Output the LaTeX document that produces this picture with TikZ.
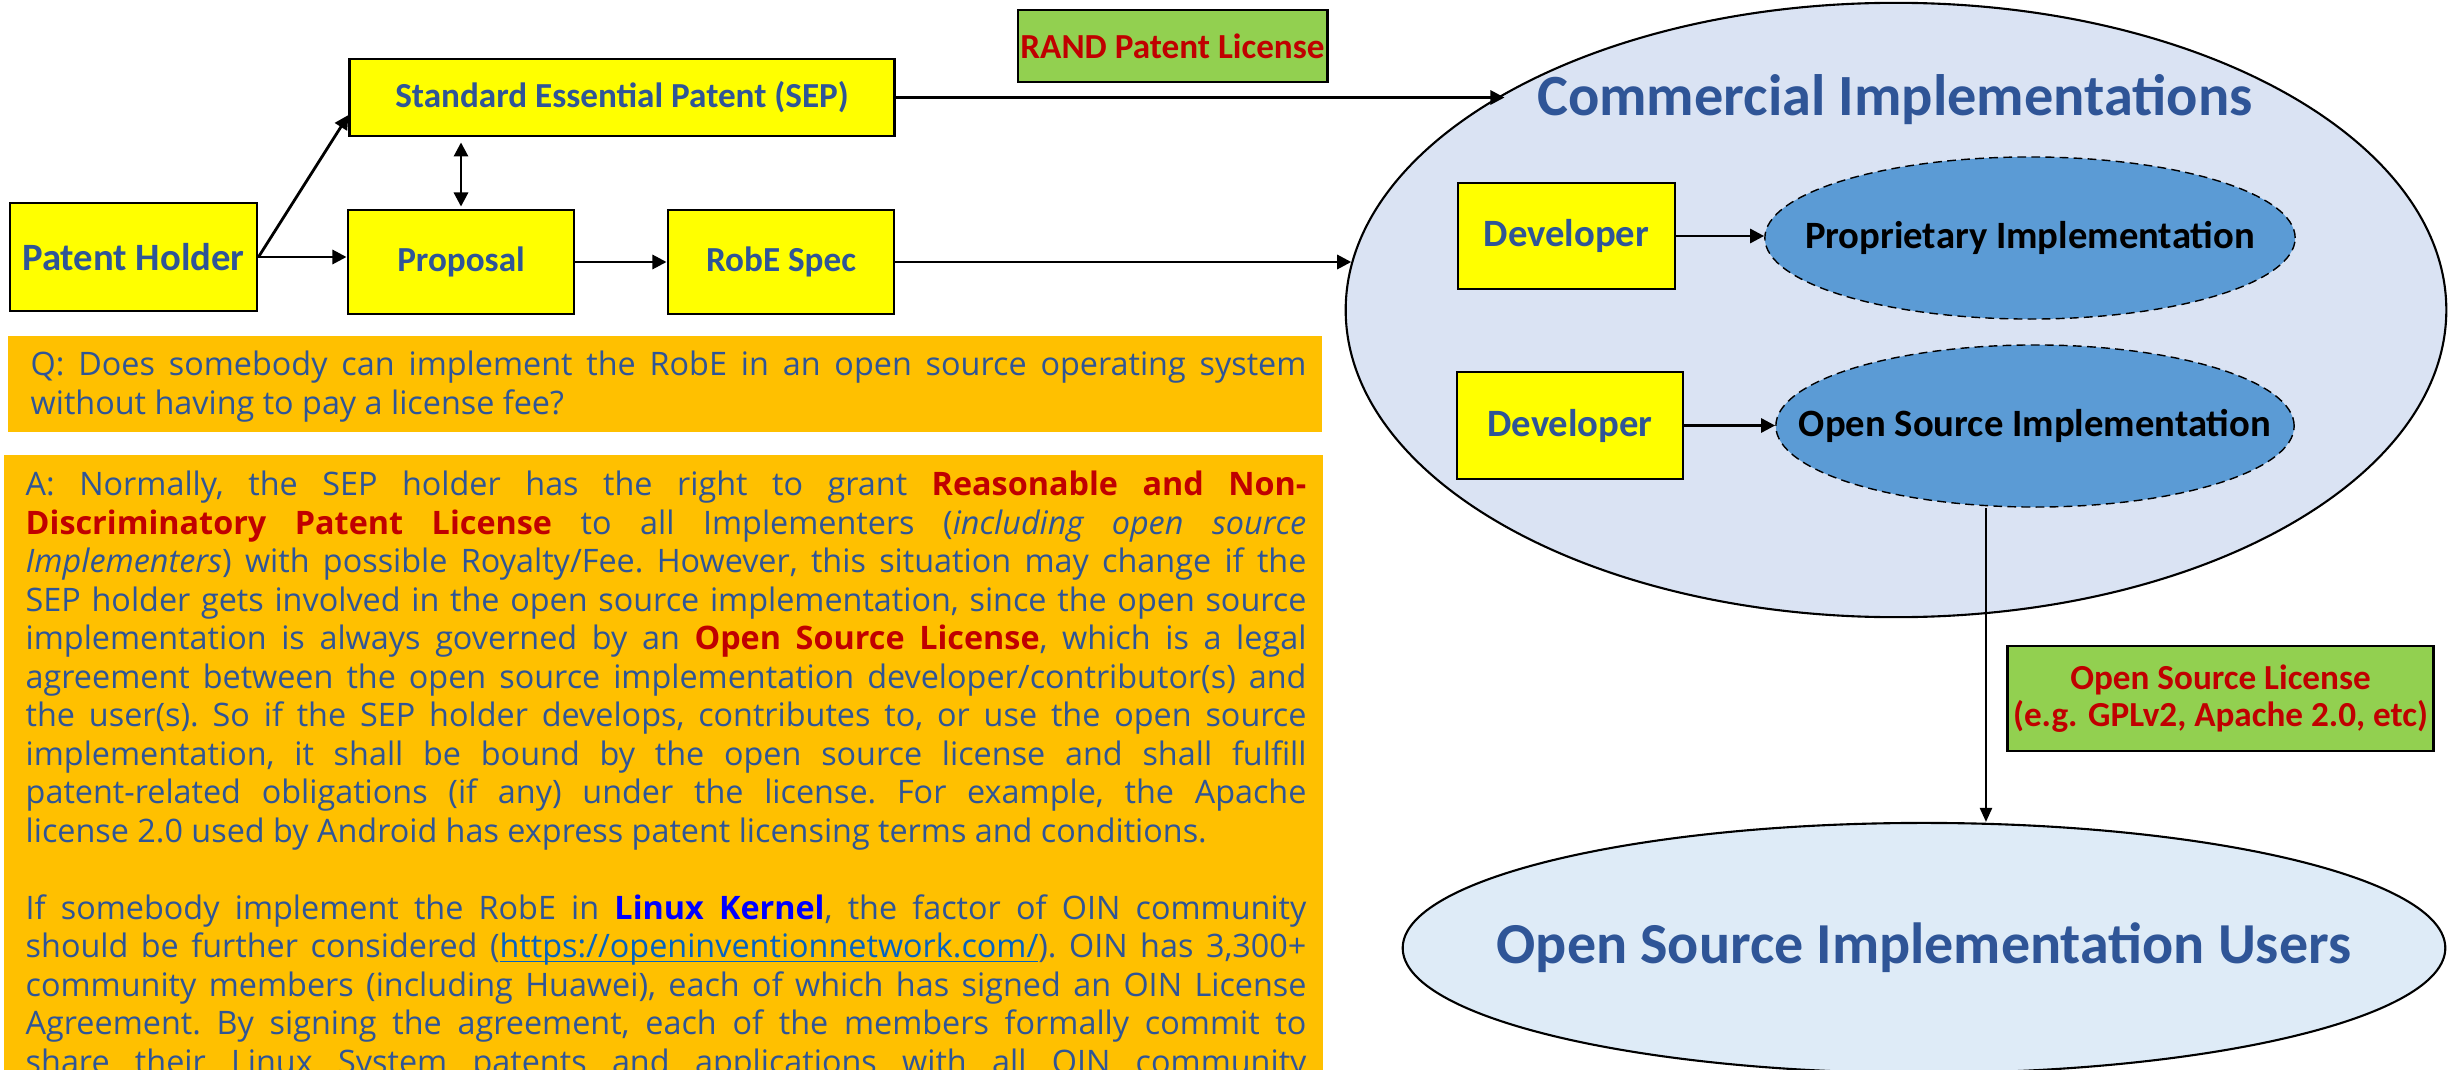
\documentclass[tikz,border=0pt]{standalone}
\usepackage{fontspec}
\setmainfont{Open Sans}
\newfontfamily\labelfont{Carlito}
\usetikzlibrary{arrows.meta,shapes.geometric}

\definecolor{txtblue}{HTML}{2F5597}
\definecolor{licred}{HTML}{C00000}
\definecolor{boxyellow}{HTML}{FFFF00}
\definecolor{licgreen}{HTML}{92D050}
\definecolor{qaorange}{HTML}{FFC000}
\definecolor{implblue}{HTML}{5B9BD5}
\definecolor{commfill}{HTML}{DAE3F3}
\definecolor{userfill}{HTML}{DEEBF7}
\definecolor{linkblue}{HTML}{0563C1}

\hyphenpenalty=10000
\newcommand\qafont{\fontsize{9.2}{10.95}\selectfont}
\newcommand\qasetup{\tolerance=9999\emergencystretch=0pt\hyphenpenalty=10000\frenchspacing\parindent=0pt}
\newcommand\redbf[1]{\textcolor{licred}{\textbf{#1}}}
\newcommand\linkline[1]{\setbox0\hbox{#1}\rlap{\rule[-1.3pt]{\wd0}{0.45pt}}\box0}

\tikzset{
  flowbox/.style={draw, line width=0.8pt, fill=boxyellow, text=txtblue, inner sep=0pt, align=center,
    font=\labelfont\bfseries\fontsize{10}{12}\selectfont},
  implnode/.style={ellipse, draw, dash pattern=on 2.5pt off 1.5pt, line width=0.4pt, fill=implblue, inner sep=0pt,
    font=\labelfont\bfseries\fontsize{11}{13}\selectfont},
  licbox/.style={draw, line width=0.8pt, fill=licgreen, text=licred, inner sep=0pt, align=center,
    font=\labelfont\bfseries\fontsize{10}{10.5}\selectfont},
  qabox/.style={fill=qaorange, inner sep=0pt, anchor=north west},
  qatext/.style={anchor=north west, inner sep=0pt, text=txtblue, align=justify, font=\qafont},
  flow/.style={line width=0.8pt, -{Triangle[length=4pt,width=4pt]}},
}

\begin{document}
\begin{tikzpicture}[x=0.01cm, y=-0.01cm]
    \useasboundingbox (0,0) rectangle (2448,1070);

    % patent side
    \node[flowbox, minimum width=2.47cm, minimum height=1.08cm, font=\labelfont\bfseries\fontsize{11}{13}\selectfont] (holder) at (133.5,257) {Patent Holder};
    \node[flowbox, minimum width=5.44cm, minimum height=0.77cm] (sep) at (622,97.5) {Standard Essential Patent (SEP)};
    \node[flowbox, minimum width=2.26cm, minimum height=1.04cm] (proposal) at (461,262) {Proposal};
    \node[flowbox, minimum width=2.26cm, minimum height=1.04cm] (spec) at (781,262) {RobE Spec};
    \node[licbox, minimum width=3.09cm, minimum height=0.72cm] (rand) at (1172.5,46) {RAND Patent License};

    \draw[flow] (holder.east) -- ([yshift=-0.175cm]sep.west);
    \draw[flow] (holder.east) -- (holder.east -| proposal.west);
    \draw[line width=0.8pt, {Triangle[length=4pt,width=4pt]}-{Triangle[length=4pt,width=4pt]}] ([yshift=-0.05cm]sep.south -| proposal.north) -- ([yshift=0.02cm]proposal.north);
    \draw[flow] (proposal.east |- spec.west) -- (spec.west);

    % implementations
    \node[ellipse, draw, line width=0.6pt, fill=commfill, minimum width=11cm, minimum height=6.14cm] (comm) at (1896,310) {};
    \node[text=txtblue, font=\labelfont\bfseries\fontsize{16.6}{19}\selectfont] (commtitle) at (1895,100) {Commercial Implementations};

    \draw[flow] (sep.east) -- (sep.east -| comm.151.7);
    \draw[flow] (spec.east) -- (spec.east -| comm.175);

    \node[flowbox, minimum width=2.17cm, minimum height=1.06cm, font=\labelfont\bfseries\fontsize{11}{13}\selectfont] (dev1) at (1566.5,236) {Developer};
    \node[implnode, minimum width=5.3cm, minimum height=1.62cm] (propimpl) at (2030,238) {\makebox[0pt]{Proprietary Implementation}};
    \node[flowbox, minimum width=2.26cm, minimum height=1.07cm, font=\labelfont\bfseries\fontsize{11}{13}\selectfont] (dev2) at (1570,425.5) {Developer};
    \node[implnode, minimum width=5.18cm, minimum height=1.62cm] (osimpl) at (2035,426) {\makebox[0pt]{Open Source Implementation}};

    \draw[flow] (dev1.east) -- (dev1.east -| propimpl.west);
    \draw[flow] (dev2.east) -- (dev2.east -| osimpl.west);

    % users
    \node[ellipse, draw, line width=0.6pt, fill=userfill, minimum width=10.42cm, minimum height=2.5cm,
      text=txtblue, font=\labelfont\bfseries\fontsize{16.5}{19}\selectfont] (users) at (1924,948) {\makebox[0pt]{Open Source Implementation Users}};
    \node[licbox, minimum width=4.25cm, minimum height=1.05cm] (osl) at (2220.5,698.5) {Open Source License\\(e.g. GPLv2, Apache 2.0, etc)};

    \draw[line width=0.5pt, -{Triangle[length=4pt,width=3.5pt]}] ([xshift=-0.49cm]osimpl.south) -- ([xshift=-0.49cm]osimpl.south |- users.north);

    % Q and A
    \node[qabox, minimum width=13.14cm, minimum height=0.96cm] (qbox) at (7,335) {};
    \node[qatext, text width=12.75cm] (question) at (30,348) {\qasetup\strut Q: Does somebody can implement the RobE in an open source operating system\linebreak
      without having to pay a license fee?};

    \node[qabox, minimum width=13.19cm, minimum height=6.3cm] (abox) at (3,454) {};
    \node[qatext, text width=12.8cm] (answer) at (25,468) {\qasetup\strut A: Normally, the SEP holder has the right to grant \redbf{Reasonable and Non-}\linebreak
      \redbf{Discriminatory Patent License} to all Implementers (\textit{including open source}\linebreak
      \textit{Implementers}) with possible Royalty/Fee. However, this situation may change if the\linebreak
      SEP holder gets involved in the open source implementation, since the open source\linebreak
      implementation is always governed by an \redbf{Open Source License}, which is a legal\linebreak
      agreement between the open source implementation developer/contributor(s) and\linebreak
      the user(s). So if the SEP holder develops, contributes to, or use the open source\linebreak
      implementation, it shall be bound by the open source license and shall fulfill\linebreak
      patent-related obligations (if any) under the license. For example, the Apache\linebreak
      license 2.0 used by Android has express patent licensing terms and conditions.\par
      \vspace{10.95pt}
      If somebody implement the RobE in \textcolor{blue}{\textbf{Linux Kernel}}, the factor of OIN community\linebreak
      should be further considered (\textcolor{linkblue}{\linkline{https://openinventionnetwork.com/}}). OIN has 3,300+\linebreak
      community members (including Huawei), each of which has signed an OIN License\linebreak
      Agreement. By signing the agreement, each of the members formally commit to\linebreak
      share their Linux System patents and applications with all OIN community\parfillskip=0pt\par};
\end{tikzpicture}
\end{document}
